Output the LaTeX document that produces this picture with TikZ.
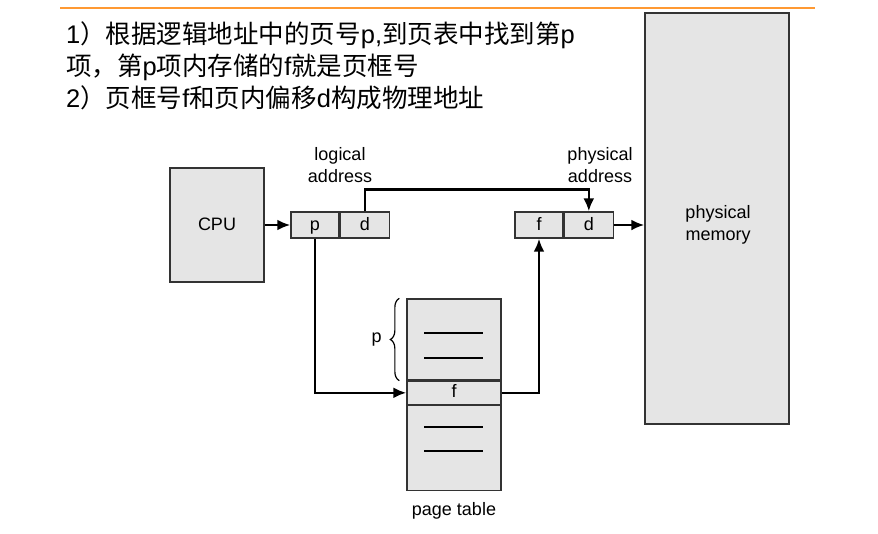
\documentclass[tikz,border=0pt]{standalone}
\usepackage{fontspec}
\setmainfont{Liberation Sans}
\newfontfamily\cjk{Noto Sans CJK SC}
\usetikzlibrary{positioning, arrows.meta, decorations.pathreplacing}

\begin{document}
\begin{tikzpicture}[
  x = 1pt,
  y = -1pt,
  box/.style = {draw=black!80, fill=gray!20, line width=1.3pt, inner sep=0pt,
    text height=13pt, text depth=3pt, font=\fontsize{18}{22}\selectfont},
  arrow/.style = {-{Latex[length=13pt, width=11pt]}, line width=2.6pt},
  note/.style = {align=center, inner sep=0pt, font=\fontsize{18}{22.5}\selectfont},
  say/.style = {anchor=west, inner sep=0pt, font=\fontsize{25.5}{30}\selectfont}
]
  \useasboundingbox (0, 0) rectangle (878, 533);
  \draw[line width=1.3pt, orange!80] (60, 8) -- (815, 8);

  \node[say] (say1) at (66, 35) {1{\cjk ）根据逻辑地址中的页号}p,{\cjk 到页表中找到第}p};
  \node[say] (say2) at (66, 67) {{\cjk 项，第}p{\cjk 项内存储的}f{\cjk 就是页框号}};
  \node[say] (say3) at (66, 98) {2{\cjk ）页框号}f{\cjk 和页内偏移}d{\cjk 构成物理地址}};

  \node[box, minimum width=144pt, minimum height=411pt] (mem) at (717, 218.5) {};
  \node[note] (memname) at (718, 225) {physical\\memory};

  \node[box, minimum width=94pt, minimum height=114pt] (cpu) at (217, 225) {CPU};

  \node[box, minimum width=48pt, minimum height=26pt] (lp) at (315, 225) {p};
  \node[box, minimum width=49pt, minimum height=26pt, right=0pt of lp] (ld) {d};
  \node[box, minimum width=48pt, minimum height=26pt] (pf) at (539, 225) {f};
  \node[box, minimum width=49pt, minimum height=26pt, right=0pt of pf] (pd) {d};

  \node[note] (laddr) at (340, 165) {logical\\address};
  \node[note] (paddr) at (600, 165) {physical\\address};

  \node[box, minimum width=94pt, minimum height=81pt] (ptop) at (454, 339.5) {};
  \node[box, minimum width=94pt, minimum height=23pt, below=0pt of ptop] (frow) {f};
  \node[box, minimum width=94pt, minimum height=85pt, below=0pt of frow] (pbot) {};
  \node[note] (ptname) at (454, 511) {page table};

  \draw[line width=1.6pt] (424, 333) -- (483, 333);
  \draw[line width=1.6pt] (424, 358) -- (483, 358);
  \draw[line width=1.6pt] (424, 427) -- (483, 427);
  \draw[line width=1.6pt] (424, 451) -- (483, 451);

  \draw[
    decorate,
    decoration = {brace, amplitude=9pt},
    line width = 1.2pt
  ] ([xshift=-7pt]ptop.south west) -- ([xshift=-7pt]ptop.north west)
    node[midway, left=17pt, note] (pmark) {p};

  \draw[arrow] (cpu.east) -- (lp.west);
  \draw[arrow] (ld.north) -- ++(0, -22) -| (pd.north);
  \draw[arrow] (pd.east) -- (pd.east -| mem.west);
  \draw[arrow] (lp.south) |- (frow.west);
  \draw[arrow] (frow.east) -| (pf.south);

\end{tikzpicture}
\end{document}
